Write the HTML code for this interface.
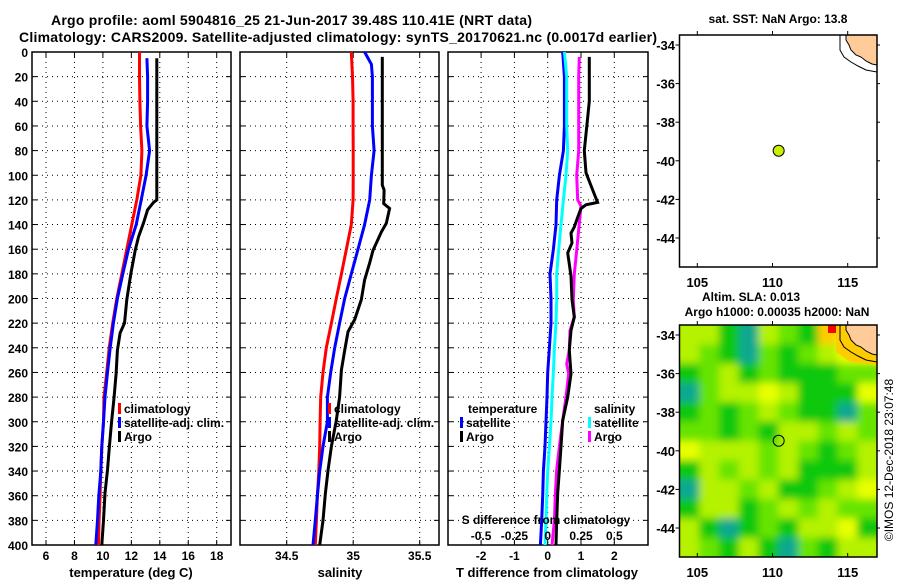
<!DOCTYPE html>
<html><head><meta charset="utf-8"><style>
body{margin:0;background:#fff;}
svg{display:block;font-family:"Liberation Sans",Arial,sans-serif;font-weight:bold;}
</style></head><body>
<svg id="c" width="900" height="580" viewBox="0 0 900 580"></svg>
<script>
// ---- data ----
const depthTicks=[0,20,40,60,80,100,120,140,160,180,200,220,240,260,280,300,320,340,360,380,400];
const tempTicks=[6,8,10,12,14,16,18];
const salTicks=[34.5,35,35.5];
const tdTicks=[-2,-1,0,1,2];
const sdTicks=[-0.5,-0.25,0,0.25,0.5];
const sdTickLabels=['-0.5','-0.25','0','0.25','0.5'];
const lonTicks=[105,110,115];
const latTicks=[-34,-36,-38,-40,-42,-44];

const climTDepth=[0,20,40,60,80,100,120,140,160,180,200,220,240,260,280,300,320,340,360,380,400];
const climT=[12.57,12.57,12.6,12.65,12.74,12.67,12.38,12.03,11.68,11.33,10.98,10.69,10.44,10.27,10.08,10.04,9.92,9.85,9.80,9.73,9.69];
const satTDepth=[5,20,40,60,80,100,120,140,160,180,200,220,240,260,280,300,320,340,360,380,400];
const satT=[13.09,13.14,13.14,13.09,13.28,13.04,12.69,12.34,11.80,11.40,11.02,10.74,10.51,10.32,10.15,10.04,9.92,9.85,9.71,9.62,9.50];
const argoTDepth=[5,20,40,60,80,100,120,122,128,139,150,161,180,201,220,228,242,261,280,299,320,339,358,380,400];
const argoT=[13.79,13.79,13.79,13.79,13.79,13.79,13.79,13.56,13.14,12.85,12.50,12.27,11.96,11.68,11.52,11.21,11.02,10.93,10.79,10.62,10.46,10.32,10.15,10.04,9.92];

const climSDepth=[0,20,40,60,80,100,120,140,160,180,200,220,240,260,280,300,320,340,360,380,400];
const climS=[34.986,34.995,34.999,34.999,35.0,35.0,34.999,34.986,34.949,34.911,34.873,34.836,34.798,34.773,34.756,34.751,34.748,34.741,34.731,34.723,34.715];
const satSDepth=[0,10,20,40,60,80,100,120,140,160,180,200,220,240,260,280,300,320,340,360,380,400];
const satS=[35.086,35.137,35.144,35.144,35.144,35.157,35.137,35.124,35.086,35.036,34.986,34.936,34.898,34.861,34.831,34.806,34.806,34.773,34.748,34.731,34.715,34.698];
const argoSDepth=[4,108,112,123,127,139,146,161,171,185,201,217,227,242,258,280,299,320,339,358,380,400];
const argoS=[35.219,35.219,35.232,35.229,35.274,35.249,35.212,35.149,35.124,35.086,35.061,35.011,34.961,34.936,34.911,34.898,34.873,34.836,34.811,34.791,34.773,34.748];

const satTdDepth=[0,20,40,60,80,100,120,140,160,180,200,220,240,260,280,300,320,340,360,380,400];
const satTd=[0.45,0.5,0.5,0.5,0.47,0.35,0.27,0.25,0.17,0.07,0.10,0.10,0.05,0.0,-0.02,-0.05,-0.08,-0.13,-0.15,-0.18,-0.22];
const argoTdDepth=[4,20,40,53,80,98,112,122,124,127,134,142,147,155,163,172,182,201,215,226,242,261,280,299,320,339,358,380,400];
const argoTd=[1.25,1.25,1.25,1.2,1.1,1.15,1.35,1.5,1.15,1.0,0.9,0.8,0.7,0.73,0.6,0.65,0.7,0.73,0.8,0.7,0.65,0.7,0.6,0.45,0.4,0.35,0.3,0.27,0.25];
const satSdDepth=[0,20,40,60,80,100,120,140,160,180,200,220,240,260,280,300,320,340,360,380,400];
const satSd=[0.125,0.1425,0.1425,0.1425,0.15,0.1375,0.1175,0.1,0.0825,0.0675,0.0675,0.0625,0.05,0.0425,0.0325,0.025,0.0125,0.0,-0.0075,-0.0125,-0.02];
const argoSdDepth=[4,20,60,80,100,120,125,139,161,180,201,215,226,242,253,261,280,299,320,339,358,380,400];
const argoSd=[0.2375,0.2325,0.2325,0.2325,0.2175,0.225,0.25,0.2375,0.2175,0.2,0.1925,0.2,0.1675,0.1625,0.1425,0.1575,0.1375,0.1125,0.0875,0.0675,0.0575,0.05,0.0325];

const argoLon=[110.41];
const argoLat=[-39.48];
// SLA heatmap (0 teal .. 5 orange), 12 rows x 10 cols
const slaGrid=[
[3,3,1,0,3,2,1,5,4,4],
[3,2,1,0,2,1,2,3,4,4],
[1,2,3,1,2,1,1,1,2,2],
[0,2,3,3,4,3,1,1,1,4],
[1,2,1,2,3,2,1,1,0,2],
[2,2,1,2,1,3,3,2,3,2],
[4,3,3,3,2,3,2,1,2,3],
[1,3,2,3,2,3,1,1,1,3],
[0,3,3,2,3,1,1,2,3,4],
[1,3,3,1,2,3,2,3,2,2],
[3,1,0,1,2,1,3,3,4,1],
[3,2,1,3,1,0,2,1,3,3]];
const slaColors=['#0aa890','#11c811','#66e400','#b4f200','#e8ff00','#ffcc00'];

// ---- helpers ----
const svg=document.getElementById('c');
const NS='http://www.w3.org/2000/svg';
function mk(tag,attrs,parent){const e=document.createElementNS(NS,tag);for(const k in attrs)e.setAttribute(k,attrs[k]);(parent||svg).appendChild(e);return e;}
function txt(x,y,s,size,anchor,parent){const t=mk('text',{x:x,y:y,'font-size':size,'text-anchor':anchor||'middle',fill:'#000'},parent);t.textContent=s;return t;}
const Y0=52,Y1=545;
const yD=d=>Y0+d*(Y1-Y0)/400;
function lin(d0,d1,r0,r1){return v=>r0+(v-d0)*(r1-r0)/(d1-d0);}
const xT=lin(6,18,46,216.7);
const xS=lin(34.5,35.5,286.7,419.7);
const xTd=lin(0,1,547.7,581);
const xSd=lin(0,0.25,547.7,581);

function panel(name,x0,x1,gx,ticks,labels){
  const g=mk('g',{});
  
  
  depthTicks.forEach(d=>{if(d>0&&d<400){const l=mk('line',{x1:x0,x2:x1,y1:yD(d),y2:yD(d),stroke:'#000','stroke-width':1,'stroke-dasharray':'1 4'},g);
    mk('line',{x1:x0,x2:x0+5,y1:yD(d),y2:yD(d),stroke:'#000'},g);mk('line',{x1:x1-5,x2:x1,y1:yD(d),y2:yD(d),stroke:'#000'},g);}});
  ticks.forEach((v,i)=>{const x=gx(v);const l=mk('line',{x1:x,x2:x,y1:Y0,y2:Y1,stroke:'#000','stroke-width':1,'stroke-dasharray':'1 4'},g);
    mk('line',{x1:x,x2:x,y1:Y1-5,y2:Y1,stroke:'#000'},g);mk('line',{x1:x,x2:x,y1:Y0,y2:Y0+5,stroke:'#000'},g);
    const t=txt(x,560,labels[i],12);});
  const r=mk('rect',{x:x0,y:Y0,width:x1-x0,height:Y1-Y0,fill:'none',stroke:'#000','stroke-width':1.5},g);
  
  return g;
}
function series(name,vals,depths,sx,color){
  let p='';vals.forEach((v,i)=>{p+=(i?'L':'M')+sx(v).toFixed(1)+' '+yD(depths[i]).toFixed(1);});
  const e=mk('path',{d:p,fill:'none',stroke:color,'stroke-width':3,'stroke-linejoin':'miter'});
  
  
}
function legendItem(x,y,color,label,name){
  const g=mk('g',{});
  
  
  if(color)mk('rect',{x:x,y:y-10,width:3,height:11,fill:color},g);
  txt(x+(color?6:0),y,label,12,'start',g);
}

// titles
let t=txt(51,25,'Argo profile: aoml 5904816_25 21-Jun-2017 39.48S 110.41E (NRT data)',14,'start');
t.setAttribute('textLength',481);
t=txt(19,42,'Climatology: CARS2009. Satellite-adjusted climatology: synTS_20170621.nc (0.0017d earlier)',14,'start');
t.setAttribute('textLength',638);

// y labels
depthTicks.forEach(d=>{const e=txt(28,yD(d)+5,String(d),12,'end');});

// panel 1
panel('temperature-panel',32,231,xT,tempTicks,tempTicks.map(String));
series('climatology-temperature',climT,climTDepth,xT,'#ff0000');
series('satellite-temperature',satT,satTDepth,xT,'#0000ff');
series('argo-temperature',argoT,argoTDepth,xT,'#000000');
t=txt(131,577,'temperature (deg C)',13);
legendItem(118,413,'#ff0000','climatology','legend-climatology');
legendItem(118,427,'#0000ff','satellite-adj. clim.','legend-satellite-adj');
legendItem(118,441,'#000000','Argo','legend-argo');

// panel 2
panel('salinity-panel',240,439,xS,salTicks,['34.5','35','35.5']);
series('climatology-salinity',climS,climSDepth,xS,'#ff0000');
series('satellite-salinity',satS,satSDepth,xS,'#0000ff');
series('argo-salinity',argoS,argoSDepth,xS,'#000000');
t=txt(340,577,'salinity',13);
legendItem(328,413,'#ff0000','climatology','legend-climatology-s');
legendItem(328,427,'#0000ff','satellite-adj. clim.','legend-satellite-adj-s');
legendItem(328,441,'#000000','Argo','legend-argo-s');

// panel 3
panel('difference-panel',448,648,xTd,tdTicks,tdTicks.map(String));
series('satellite-t-diff',satTd,satTdDepth,xTd,'#0000ff');
series('satellite-s-diff',satSd,satSdDepth,xSd,'#00ffff');
series('argo-s-diff',argoSd,argoSdDepth,xSd,'#ff00ff');
series('argo-t-diff',argoTd,argoTdDepth,xTd,'#000000');
t=txt(547,577,'T difference from climatology',13);
t=txt(546,524,'S difference from climatology',12);
sdTicks.forEach((v,i)=>{const e=txt(xSd(v),540,sdTickLabels[i],12);});
legendItem(468,413,null,'temperature','legend-temperature-header');
legendItem(460,427,'#0000ff','satellite','legend-t-satellite');
legendItem(460,441,'#000000','Argo','legend-t-argo');
legendItem(594,413,null,'salinity','legend-salinity-header');
legendItem(588,427,'#00ffff','satellite','legend-s-satellite');
legendItem(588,441,'#ff00ff','Argo','legend-s-argo');

// maps
const MX0=679.5,MX1=877;
const mLon=lin(105,115,697.3,847.7);
function mapFrame(name,top){
  const mLat=lin(-34,-44,top+10,top+203);
  const g=mk('g',{});
  
  
  return {g,mLat};
}
function axesMap(g,top,bottom,mLat){
  mk('rect',{x:MX0,y:top,width:MX1-MX0,height:bottom-top,fill:'none',stroke:'#000','stroke-width':1.5},g);
  lonTicks.forEach(v=>{const x=mLon(v);mk('line',{x1:x,x2:x,y1:bottom-4,y2:bottom,stroke:'#000'},g);mk('line',{x1:x,x2:x,y1:top,y2:top-4,stroke:'#000'},g);
    const e=txt(x,bottom+20,String(v),13,'middle',g);});
  latTicks.forEach(v=>{const y=mLat(v);mk('line',{x1:MX0-4,x2:MX0,y1:y,y2:y,stroke:'#000'},g);mk('line',{x1:MX1,x2:MX1+3,y1:y,y2:y,stroke:'#000'},g);
    const e=txt(675,y+5,String(v),13,'end',g);});
}
function land(g,dy){
  const p=mk('path',{d:`M846 ${35+dy} L846 ${40+dy} L849 ${45+dy} L851 ${50+dy} L856 ${55+dy} L861 ${57+dy} L866 ${61+dy} L872 ${64+dy} L877 ${65+dy} L877 ${35+dy} Z`,fill:'#ffcc99',stroke:'#000','stroke-width':1},g);
  
  mk('path',{d:`M840 ${35+dy} L840 ${50+dy} L844 ${57+dy} L851 ${62+dy} L858 ${66+dy} L866 ${70+dy} L877 ${72+dy}`,fill:'none',stroke:'#000','stroke-width':1},g);
}
// map 1
let m1=mapFrame('sst-map',35);
mk('rect',{x:MX0,y:35,width:MX1-MX0,height:232,fill:'#fff'},m1.g);
land(m1.g,0);
argoLon.forEach((lo,i)=>{const c=mk('circle',{cx:mLon(lo),cy:m1.mLat(argoLat[i]),r:5.5,fill:'#ccee00',stroke:'#000','stroke-width':1},m1.g);});
axesMap(m1.g,35,267,m1.mLat);
t=txt(778,23,'sat. SST: NaN Argo: 13.8',12);

// map 2
let m2=mapFrame('sla-map',325);
const defs=mk('defs',{});
const clip=mk('clipPath',{id:'mc'},defs);mk('rect',{x:MX0,y:325,width:MX1-MX0,height:232},clip);
const flt=mk('filter',{id:'bl',x:'-10%',y:'-10%',width:'120%',height:'120%'},defs);mk('feGaussianBlur',{stdDeviation:4},flt);
const hg=mk('g',{'clip-path':'url(#mc)'},m2.g);


mk('rect',{x:MX0,y:325,width:MX1-MX0,height:232,fill:'#99ee00'},hg);
const bg=mk('g',{filter:'url(#bl)'},hg);
const nr=slaGrid.length,nc=slaGrid[0].length,cw=(MX1-MX0)/nc,ch=232/nr;
for(let r=-1;r<=nr;r++)for(let c=-1;c<=nc;c++){
  const rr=Math.min(nr-1,Math.max(0,r)),cc=Math.min(nc-1,Math.max(0,c));
  const cell=mk('rect',{x:MX0+c*cw,y:325+r*ch,width:cw+0.5,height:ch+0.5,fill:slaColors[slaGrid[rr][cc]]},bg);
  
  
}
mk('rect',{x:828,y:325,width:9,height:8,fill:'#ff0000'},hg);
mk('path',{d:'M836 325 L836 352 L850 362 L877 365 L877 325 Z',fill:'#ffcc00'},hg);
land(hg,290);
argoLon.forEach((lo,i)=>{const c=mk('circle',{cx:mLon(lo),cy:m2.mLat(argoLat[i]),r:5.5,fill:'none',stroke:'#000','stroke-width':1},m2.g);});
axesMap(m2.g,325,557,m2.mLat);
t=txt(751,301,'Altim. SLA: 0.013',12);
t=txt(777,316,'Argo h1000: 0.00035 h2000: NaN',12);

// stamp
t=mk('text',{x:0,y:0,'font-size':12,'font-weight':'normal','text-anchor':'middle',transform:'translate(893,460) rotate(-90)'});
t.textContent='©IMOS 12-Dec-2018 23:07:48';

</script>
</body></html>
